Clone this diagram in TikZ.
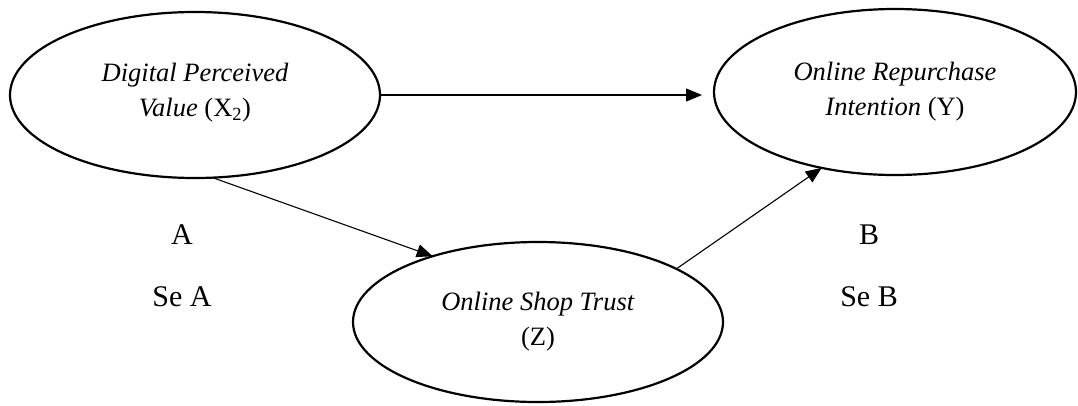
\documentclass[tikz,border=0pt]{standalone}
\usepackage{fontspec}
\setmainfont{Liberation Serif}
\usetikzlibrary{arrows.meta, shapes}

\begin{document}
\begin{tikzpicture}[x=1pt,y=-1pt,>={Triangle[length=16pt,width=13pt]},
	var/.style={ellipse,draw,line width=2.2pt,inner sep=0pt,outer sep=0pt,align=center,
		font=\fontsize{26.5}{35}\selectfont},
	lbl/.style={font=\fontsize{30}{36}\selectfont},
	path/.style={->,line width=1.1pt}]
		\useasboundingbox (0,0) rectangle (1078,405);

		\node[var,minimum width=370pt,minimum height=166pt] (X) at (195,95)
			{\textit{Digital Perceived}\\\textit{Value} (X\textsubscript{2})\\[-25pt]};
		\node[var,minimum width=362pt,minimum height=166pt] (Y) at (895,92)
			{\textit{Online Repurchase}\\\textit{Intention} (Y)};
		\node[var,minimum width=370pt,minimum height=160pt] (Z) at (538,322)
			{\textit{Online Shop Trust}\\(Z)\\[-28pt]};

		\node[lbl] (a)  at (182,235) {A};
		\node[lbl] (sa) at (182,297) {Se A};
		\node[lbl] (b)  at (869,235) {B};
		\node[lbl] (sb) at (869,297) {Se B};

		\draw[path,shorten >=12pt] (X.east) -- (Y.west |- X.east);
		\draw[path] (X.-78) -- (Z.148);
		\draw[path] (Z.21) -- (Y.226);
	\end{tikzpicture}
\end{document}
